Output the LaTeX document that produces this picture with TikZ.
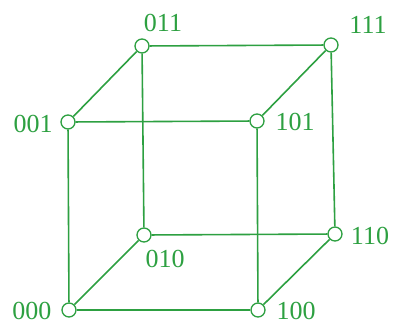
\documentclass[tikz,border=0pt]{standalone}
\usepackage{fontspec}
\setmainfont{Liberation Serif}
\definecolor{cgreen}{RGB}{45,160,65}
\begin{document}
\begin{tikzpicture}[x=1pt,y=-1pt,
  vert/.style={circle,draw=cgreen,fill=white,line width=1.3pt,minimum size=14pt,inner sep=0pt},
  edge/.style={draw=cgreen,line width=1.6pt},
  lab/.style={text=cgreen,font=\fontsize{26}{26}\selectfont,inner sep=0pt}]
\useasboundingbox (0,0) rectangle (393,324);
\node[vert] (v000) at (69,310) {};
\node[vert] (v100) at (258,310) {};
\node[vert] (v110) at (335,234) {};
\node[vert] (v010) at (144,235) {};
\node[vert] (v001) at (68,122) {};
\node[vert] (v101) at (257,121) {};
\node[vert] (v011) at (142,46) {};
\node[vert] (v111) at (331,45) {};
\draw[edge] (v000) -- (v100);
\draw[edge] (v000) -- (v010);
\draw[edge] (v000) -- (v001);
\draw[edge] (v001) -- (v101);
\draw[edge] (v001) -- (v011);
\draw[edge] (v011) -- (v111);
\draw[edge] (v011) -- (v010);
\draw[edge] (v101) -- (v111);
\draw[edge] (v101) -- (v100);
\draw[edge] (v111) -- (v110);
\draw[edge] (v110) -- (v100);
\draw[edge] (v110) -- (v010);
\node[lab] (l000) at (32,311) {000};
\node[lab] (l100) at (296,311) {100};
\node[lab] (l110) at (370,236) {110};
\node[lab] (l010) at (165,259) {010};
\node[lab] (l001) at (33,124) {001};
\node[lab] (l101) at (295,122) {101};
\node[lab] (l011) at (163,23) {011};
\node[lab] (l111) at (368,25) {111};
\end{tikzpicture}
\end{document}
